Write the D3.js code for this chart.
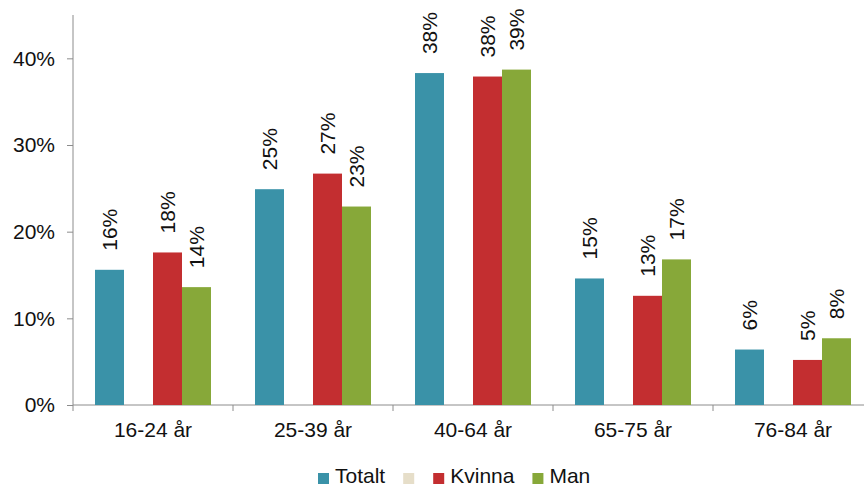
<!DOCTYPE html>
<html>
<head>
<meta charset="utf-8">
<script src="https://cdn.jsdelivr.net/npm/d3@7"></script>
<style>
  html, body { margin: 0; padding: 0; background: #fff; }
  svg { display: block; font-family: "Liberation Sans", Arial, sans-serif; }
</style>
</head>
<body>
<svg id="chart" width="864" height="486"></svg>
<script>
// Age groups on the x axis
const categories = ["16-24 år", "25-39 år", "40-64 år", "65-75 år", "76-84 år"];
// Shares in percent per series
const totalt = [15.6, 24.9, 38.3, 14.6, 6.4];
const blank  = [null, null, null, null, null];
const kvinna = [17.6, 26.7, 37.9, 12.6, 5.2];
const man    = [13.6, 22.9, 38.7, 16.8, 7.7];
const seriesNames = ["Totalt", "", "Kvinna", "Man"];
const seriesColors = ["#3a92a8", "#e6dec9", "#c32e30", "#87a839"];
const yTicks = [0, 10, 20, 30, 40];

const FS = 21;

const series = [totalt, blank, kvinna, man].map((vals, i) => ({
  name: seriesNames[i], color: seriesColors[i], values: vals
}));

const svg = d3.select("#chart");
const x0 = 73, x1 = 873, yBase = 405, yTop = 15;

const x = d3.scaleBand().domain(categories).range([x0, x1]).padding(0);
const xs = d3.scaleBand().domain(d3.range(series.length))
  .range([22, x.bandwidth() - 22]).padding(0);
const y = d3.scaleLinear().domain([0, 45]).range([yBase, yTop]);

// Y axis
const yAxis = svg.append("g").attr("transform", `translate(${x0},0)`)
  .call(d3.axisLeft(y).tickValues(yTicks).tickSize(6).tickPadding(12)
    .tickFormat(d => d + "%"));
yAxis.select(".domain").attr("stroke", "#8c8c8c").attr("d", `M0,${yBase}V${yTop}`);
yAxis.selectAll(".tick line").attr("stroke", "#8c8c8c");
yAxis.selectAll(".tick text").attr("font-size", FS).attr("fill", "#111")
  .attr("font-family", "Liberation Sans, Arial, sans-serif");

// X axis with ticks on category boundaries
const xAxis = svg.append("g").attr("transform", `translate(0,${yBase})`);
xAxis.append("line").attr("x1", x0).attr("x2", 864).attr("y1", 0).attr("y2", 0)
  .attr("stroke", "#8c8c8c");
const bounds = categories.map(c => x(c)).concat([x1]);
xAxis.selectAll("line.tk").data(bounds).join("line").attr("class", "tk")
  .attr("x1", d => d).attr("x2", d => d).attr("y1", 0).attr("y2", 6)
  .attr("stroke", "#8c8c8c");
xAxis.selectAll("text").data(categories).join("text")
  .attr("x", d => x(d) + x.bandwidth() / 2).attr("y", 32)
  .attr("text-anchor", "middle").attr("font-size", FS).attr("fill", "#111")
  .text(d => d);

// Bars and rotated value labels
series.forEach((s, si) => {
  const pts = categories.map((c, ci) => ({ c, v: s.values[ci] })).filter(p => p.v != null);
  const g = svg.append("g");
  g.selectAll("rect").data(pts).join("rect")
    .attr("x", p => x(p.c) + xs(si))
    .attr("width", xs.bandwidth())
    .attr("y", p => y(p.v))
    .attr("height", p => yBase - y(p.v))
    .attr("fill", s.color);
  g.selectAll("text").data(pts).join("text")
    .attr("transform", p => `translate(${x(p.c) + xs(si) + xs.bandwidth() / 2 + 7.5},${y(p.v) - 19}) rotate(-90)`)
    .attr("font-size", FS).attr("fill", "#111")
    .text(p => Math.round(p.v) + "%");
});

// Legend
const legend = svg.append("g").attr("transform", "translate(318,0)");
let lx = 0;
series.forEach(s => {
  const item = legend.append("g").attr("transform", `translate(${lx},0)`);
  item.append("rect").attr("x", 0).attr("y", 473).attr("width", 11).attr("height", 11)
    .attr("fill", s.color);
  const t = item.append("text").attr("x", 17).attr("y", 483)
    .attr("font-size", FS).attr("fill", "#111").text(s.name);
  lx += s.name ? 17 + t.node().getComputedTextLength() + 18 : 30;
});
</script>
</body>
</html>
